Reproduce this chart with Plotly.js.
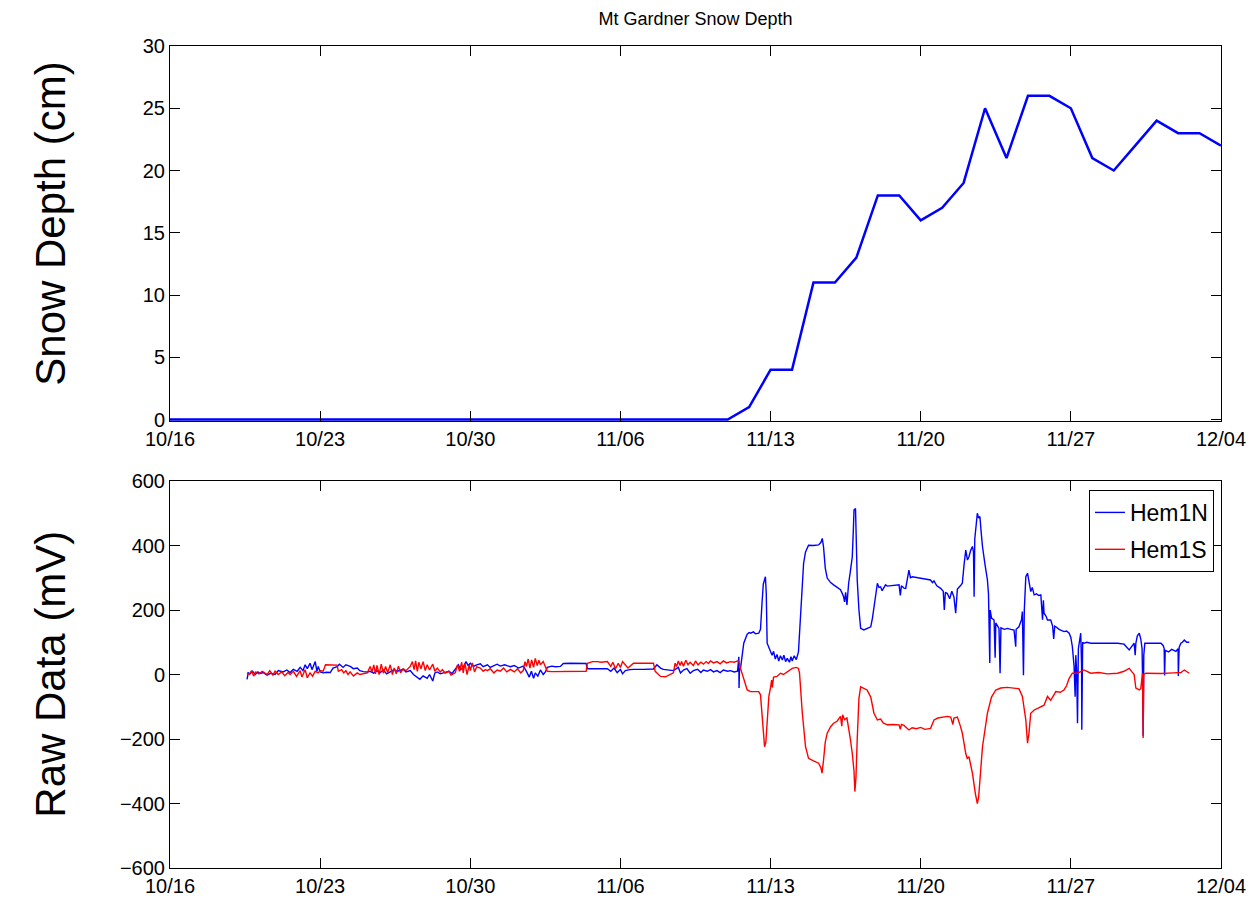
<!DOCTYPE html>
<html>
<head>
<meta charset="utf-8">
<script src="https://cdn.plot.ly/plotly-3.0.1.min.js"></script>
<style>html,body{margin:0;padding:0;background:#fff;}#chart{width:1251px;height:904px;}</style>
</head>
<body>
<div id="chart"></div>
<script>
// ---- Data ----
// x tick positions (days since 10/16) and labels
const tickDays = [0, 7, 14, 21, 28, 35, 42, 49];
const tickLabels = ['10/16', '10/23', '10/30', '11/06', '11/13', '11/20', '11/27', '12/04'];

// Daily snow depth (cm), day 0 = 10/16
const snowDays = [0,1,2,3,4,5,6,7,8,9,10,11,12,13,14,15,16,17,18,19,20,21,22,23,24,25,26,27,28,29,30,31,32,33,34,35,36,37,38,39,40,41,42,43,44,45,46,47,48,49];
const snowDepth = [0,0,0,0,0,0,0,0,0,0,0,0,0,0,0,0,0,0,0,0,0,0,0,0,0,0,0,1,4,4,11,11,13,18,18,16,17,19,25,21,26,26,25,21,20,22,24,23,23,22];

// Raw sensor data (mV), time in days since 10/16
const hem1NDays = [3.59,3.65,3.73,3.85,3.97,4.10,4.20,4.35,4.53,4.70,4.90,5.05,5.27,5.45,5.60,5.75,5.93,6.07,6.20,6.30,6.40,6.53,6.62,6.77,6.85,6.91,7.00,7.14,7.30,7.47,7.60,7.79,7.90,8.07,8.20,8.40,8.55,8.73,8.85,9.01,9.20,9.33,9.50,9.65,9.80,9.95,10.10,10.27,10.45,10.60,10.87,11.00,11.20,11.35,11.53,11.65,11.80,11.99,12.10,12.25,12.35,12.46,12.60,12.83,13.00,13.15,13.30,13.45,13.55,13.67,13.80,13.90,14.00,14.15,14.30,14.47,14.60,14.80,14.93,15.10,15.25,15.40,15.60,15.87,16.05,16.25,16.47,16.60,16.75,16.85,16.95,17.03,17.15,17.27,17.40,17.50,17.59,17.80,17.97,18.20,18.34,18.67,19.13,19.40,19.46,19.93,20.39,20.55,20.70,20.85,21.00,21.10,21.23,21.45,21.61,22.07,22.54,22.70,22.87,23.00,23.19,23.47,23.70,23.80,23.94,24.10,24.25,24.40,24.60,24.75,24.87,25.05,25.20,25.34,25.50,25.65,25.80,26.00,26.13,26.30,26.46,26.52,26.53,26.55,26.60,26.68,26.75,26.85,26.91,27.00,27.07,27.20,27.30,27.45,27.53,27.60,27.66,27.76,27.80,27.84,27.92,28.00,28.07,28.14,28.22,28.30,28.38,28.46,28.55,28.62,28.70,28.78,28.88,28.95,29.01,29.10,29.20,29.30,29.40,29.48,29.54,29.63,29.77,30.00,30.24,30.35,30.41,30.47,30.55,30.64,30.80,30.94,31.10,31.26,31.35,31.40,31.45,31.50,31.56,31.64,31.72,31.81,31.86,31.89,31.96,32.00,32.04,32.12,32.20,32.35,32.50,32.67,32.75,32.82,32.90,32.98,33.05,33.13,33.20,33.36,33.44,33.70,33.99,34.05,34.10,34.22,34.30,34.45,34.52,34.61,34.80,35.00,35.20,35.46,35.55,35.62,35.75,35.93,36.05,36.10,36.15,36.24,36.35,36.45,36.55,36.63,36.67,36.71,36.85,36.94,37.02,37.10,37.18,37.25,37.33,37.41,37.46,37.49,37.52,37.58,37.64,37.70,37.76,37.82,37.88,38.00,38.11,38.16,38.18,38.22,38.24,38.30,38.42,38.47,38.50,38.58,38.65,38.70,38.74,38.90,39.04,39.20,39.35,39.43,39.45,39.58,39.70,39.74,39.79,39.83,39.90,39.98,40.05,40.13,40.20,40.29,40.40,40.50,40.60,40.68,40.72,40.75,40.85,40.91,41.06,41.15,41.20,41.25,41.30,41.45,41.68,41.80,41.92,42.00,42.07,42.15,42.20,42.23,42.27,42.31,42.35,42.38,42.46,42.50,42.51,42.55,42.61,42.75,42.93,43.08,43.50,44.18,44.48,44.72,44.85,44.95,45.00,45.03,45.10,45.19,45.26,45.32,45.34,45.37,45.40,45.45,45.50,46.20,46.30,46.35,46.37,46.40,46.55,46.70,46.90,47.00,47.01,47.05,47.13,47.20,47.29,47.40,47.52];
const hem1N = [-15,5,2,10,0,8,3,6,-2,4,0,12,8,14,6,16,10,22,12,30,18,35,15,40,10,25,8,5,7,6,20,24,32,22,30,25,18,20,12,9,8,10,4,12,6,14,2,8,15,10,16,8,12,0,-8,-15,-4,-12,0,-20,5,8,2,6,10,3,18,30,15,22,40,28,35,25,30,33,24,30,22,28,32,26,30,24,28,20,26,12,-8,10,-12,5,-5,14,0,8,22,26,24,25,34,35,35,34,18,17,18,10,20,6,16,2,12,15,16,16,17,30,20,16,15,12,22,5,14,18,4,12,16,6,14,10,15,8,12,6,14,10,12,8,10,55,-42,12,20,60,97,115,125,130,128,132,126,128,140,220,280,303,250,97,85,76,60,72,48,62,42,58,45,60,40,50,38,55,42,58,46,70,180,300,345,380,401,400,402,410,422,395,330,299,285,278,270,263,250,242,225,255,216,283,320,365,450,510,515,420,293,200,143,138,142,148,175,210,255,283,270,272,260,278,274,276,278,245,275,268,267,324,300,303,300,298,296,293,285,290,275,267,258,200,255,251,235,258,240,190,250,265,275,283,340,386,355,365,385,397,380,241,420,470,500,485,490,440,397,340,293,250,190,36,200,175,169,52,160,150,143,4,145,140,143,140,138,86,140,148,170,195,-2,200,303,314,290,257,270,247,250,245,247,170,230,190,180,169,169,150,110,150,148,140,133,135,128,115,86,26,-69,60,10,-151,80,97,128,30,-171,100,97,100,97,97,97,97,94,76,88,97,60,97,120,128,110,80,4,-190,60,97,97,97,90,81,-3,75,70,78,72,80,-5,85,97,100,107,100,100];

const hem1SDays = [3.59,3.70,3.80,3.90,4.00,4.15,4.30,4.53,4.65,4.80,4.90,5.05,5.20,5.35,5.50,5.60,5.75,5.90,6.07,6.15,6.30,6.40,6.53,6.65,6.77,6.91,7.00,7.14,7.25,7.47,7.79,7.85,8.00,8.10,8.20,8.30,8.40,8.55,8.73,8.85,9.01,9.20,9.33,9.42,9.50,9.58,9.65,9.75,9.85,9.95,10.05,10.15,10.27,10.37,10.45,10.55,10.65,10.75,10.87,11.00,11.20,11.30,11.38,11.45,11.53,11.60,11.70,11.80,11.90,11.99,12.10,12.25,12.35,12.46,12.60,12.70,12.83,13.00,13.10,13.30,13.40,13.50,13.60,13.67,13.75,13.85,13.95,14.00,14.10,14.20,14.30,14.47,14.60,14.70,14.80,14.93,15.10,15.25,15.40,15.55,15.70,15.87,16.05,16.20,16.35,16.47,16.55,16.62,16.70,16.78,16.86,16.95,17.03,17.12,17.20,17.27,17.40,17.50,17.59,17.80,17.97,18.20,18.34,18.67,19.13,19.40,19.46,19.70,19.93,20.10,20.39,20.55,20.65,20.77,20.90,21.00,21.10,21.23,21.35,21.61,22.07,22.54,22.62,22.75,22.87,23.10,23.19,23.40,23.47,23.55,23.62,23.70,23.78,23.85,23.94,24.05,24.15,24.25,24.40,24.50,24.62,24.75,24.87,25.00,25.10,25.20,25.34,25.50,25.65,25.80,25.95,26.13,26.30,26.46,26.52,26.60,26.75,26.91,27.07,27.30,27.45,27.53,27.60,27.66,27.72,27.78,27.84,27.92,28.00,28.05,28.08,28.14,28.30,28.46,28.60,28.78,28.90,29.01,29.20,29.30,29.35,29.48,29.63,29.77,30.00,30.24,30.35,30.40,30.47,30.55,30.64,30.80,30.94,31.10,31.26,31.32,31.36,31.45,31.56,31.64,31.72,31.81,31.89,31.93,31.98,32.04,32.12,32.20,32.35,32.50,32.67,32.75,32.82,32.98,33.13,33.25,33.44,33.70,33.99,34.05,34.10,34.22,34.45,34.60,34.80,35.00,35.20,35.46,35.62,35.80,35.93,36.10,36.24,36.40,36.50,36.55,36.71,36.85,36.94,37.10,37.17,37.25,37.41,37.55,37.64,37.70,37.76,37.88,38.11,38.30,38.50,38.73,39.04,39.35,39.58,39.74,39.90,39.98,40.05,40.13,40.29,40.45,40.60,40.75,40.91,41.06,41.30,41.50,41.68,41.80,41.92,42.07,42.31,42.61,42.93,43.30,43.70,44.18,44.48,44.72,44.85,44.95,45.03,45.19,45.26,45.34,45.37,45.40,45.50,46.20,46.80,47.13,47.29,47.40,47.52];
const hem1S = [5,0,12,-5,8,2,10,0,12,-2,10,0,8,-4,6,0,10,-6,12,-8,15,-10,5,-5,10,5,12,10,30,30,29,10,15,5,12,0,8,-5,5,0,2,5,25,8,30,2,28,0,32,4,25,6,30,0,20,2,26,5,18,12,25,40,15,42,10,38,18,40,12,30,14,32,10,20,8,15,4,10,-2,5,30,10,38,5,35,0,30,12,36,8,24,20,10,15,12,18,5,14,10,20,8,16,8,18,5,12,40,25,48,20,45,22,50,28,44,30,40,25,10,9,9,10,9,8,9,10,35,40,40,38,40,25,38,18,35,22,40,28,20,35,36,35,10,0,-6,-7,-4,2,5,35,25,42,28,40,26,44,30,38,28,42,30,38,32,40,34,42,36,40,33,42,36,40,38,42,40,19,-17,-48,-53,-52,-53,-63,-120,-182,-224,-210,-140,-68,-40,-17,-40,-8,-6,4,0,9,14,19,22,19,4,-120,-224,-260,-268,-275,-290,-306,-265,-210,-182,-162,-151,-145,-130,-160,-125,-140,-135,-162,-200,-245,-300,-363,-320,-200,-74,-38,-42,-48,-70,-94,-120,-141,-138,-150,-156,-155,-156,-170,-155,-158,-172,-165,-168,-164,-170,-167,-141,-135,-133,-130,-130,-132,-155,-135,-132,-160,-182,-245,-260,-255,-306,-370,-400,-380,-327,-224,-120,-70,-48,-42,-40,-42,-44,-68,-141,-213,-180,-120,-110,-105,-99,-95,-68,-80,-53,-55,-48,-35,-12,4,4,14,4,6,2,4,10,19,8,0,-42,-48,-44,4,-197,0,4,3,5,6,14,8,4];

// ---- Plot ----
const axisFont = {family: 'Liberation Sans, Arial, sans-serif', size: 20, color: '#000'};
const baseX = {
  range: [0, 49], tickmode: 'array', tickvals: tickDays, ticktext: tickLabels,
  ticks: 'inside', ticklen: 10, tickcolor: '#000', showline: true, linecolor: '#000', linewidth: 1,
  mirror: 'ticks', showgrid: false, zeroline: false, tickfont: axisFont
};
const baseY = {
  ticks: 'inside', ticklen: 10, tickcolor: '#000', showline: true, linecolor: '#000', linewidth: 1,
  mirror: 'ticks', showgrid: false, zeroline: false, tickfont: axisFont
};

const traces = [
  {x: snowDays, y: snowDepth, type: 'scatter', mode: 'lines', xaxis: 'x', yaxis: 'y',
   line: {color: '#0000ff', width: 2.5}, showlegend: false},
  {x: hem1NDays, y: hem1N, type: 'scatter', mode: 'lines', xaxis: 'x2', yaxis: 'y2', name: 'Hem1N',
   legendgroup: 'a', line: {color: '#0000ff', width: 1.4}},
  {x: hem1SDays, y: hem1S, type: 'scatter', mode: 'lines', xaxis: 'x2', yaxis: 'y2', name: 'Hem1S',
   legendgroup: 'b', line: {color: '#ff0000', width: 1.4}}
];

const layout = {
  width: 1251, height: 904,
  margin: {l: 170, r: 30, t: 46, b: 36},
  paper_bgcolor: '#fff', plot_bgcolor: '#fff',
  title: {text: 'Mt Gardner Snow Depth', font: {family: 'Liberation Sans, Arial, sans-serif', size: 18, color: '#000'},
          xref: 'paper', x: 0.5, xanchor: 'center', yref: 'container', y: 0.979, yanchor: 'middle'},
  xaxis: Object.assign({}, baseX, {anchor: 'y'}),
  yaxis: Object.assign({}, baseY, {domain: [0.5438, 1], range: [-0.12, 30], tickvals: [0,5,10,15,20,25,30], tickmode: 'array'}),
  xaxis2: Object.assign({}, baseX, {anchor: 'y2'}),
  yaxis2: Object.assign({}, baseY, {domain: [0, 0.4708], range: [-600, 600], dtick: 200, tick0: 0}),
  showlegend: true,
  legend: {x: 0.9933, xanchor: 'right', y: 0.4599, yanchor: 'top', xref: 'paper', yref: 'paper',
           bgcolor: '#fff', bordercolor: '#000', borderwidth: 1,
           font: {family: 'Liberation Sans, Arial, sans-serif', size: 23, color: '#000'},
           traceorder: 'grouped', tracegroupgap: 4},
  annotations: [
    {text: 'Snow Depth (cm)', xref: 'paper', yref: 'paper', x: -0.114, y: 0.784, xanchor: 'center', yanchor: 'middle',
     textangle: -90, showarrow: false, font: {family: 'Liberation Sans, Arial, sans-serif', size: 42, color: '#000'}},
    {text: 'Raw Data (mV)', xref: 'paper', yref: 'paper', x: -0.114, y: 0.2354, xanchor: 'center', yanchor: 'middle',
     textangle: -90, showarrow: false, font: {family: 'Liberation Sans, Arial, sans-serif', size: 42, color: '#000'}}
  ]
};

Plotly.newPlot('chart', traces, layout, {displayModeBar: false, staticPlot: true});
</script>
</body>
</html>
